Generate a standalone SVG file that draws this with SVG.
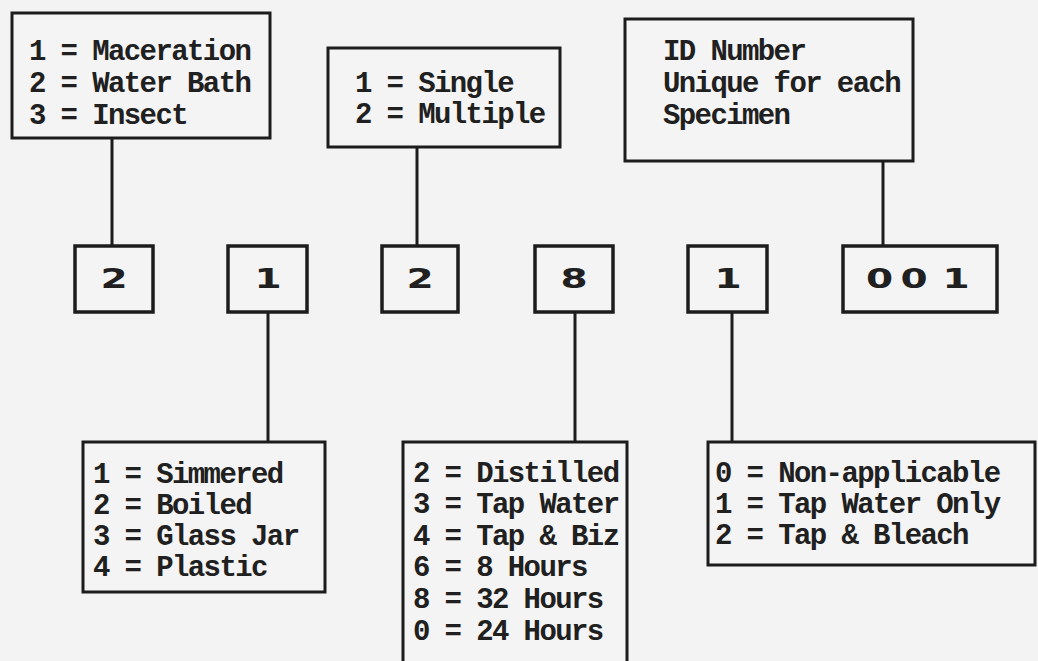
<svg xmlns="http://www.w3.org/2000/svg" width="1038" height="661" viewBox="0 0 1038 661">
<style>
.bg{fill:#f3f3f3}
.box{fill:#f4f4f4;stroke:#1c1c1c;stroke-width:3}
.dbox{fill:#f4f4f4;stroke:#1c1c1c;stroke-width:3.5}
.conn{stroke:#1c1c1c;stroke-width:3;fill:none}
.t{font-family:"Liberation Mono","Courier New",monospace;font-weight:bold;font-size:29px;letter-spacing:-1.6px;fill:#202020}
.d{font-family:"DejaVu Sans","Liberation Sans",sans-serif;font-weight:bold;font-size:26px;fill:#202020;text-anchor:middle}
</style>
<rect class="bg" x="0" y="0" width="1038" height="661"/>
<g id="connectors">
<line class="conn" x1="112" y1="137" x2="112" y2="246"/>
<line class="conn" x1="417" y1="147" x2="417" y2="246"/>
<line class="conn" x1="883" y1="161" x2="883" y2="246"/>
<line class="conn" x1="268" y1="312" x2="268" y2="442"/>
<line class="conn" x1="575" y1="312" x2="575" y2="442"/>
<line class="conn" x1="732" y1="312" x2="732" y2="442"/>
</g>
<g id="legend-type">
<rect class="box" x="12" y="13" width="258" height="125"/>
<text class="t" x="29" y="60">1 = Maceration</text>
<text class="t" x="29" y="92">2 = Water Bath</text>
<text class="t" x="29" y="124">3 = Insect</text>
</g>
<g id="legend-count">
<rect class="box" x="328" y="48" width="232" height="99"/>
<text class="t" x="355" y="92">1 = Single</text>
<text class="t" x="355" y="123">2 = Multiple</text>
</g>
<g id="legend-id">
<rect class="box" x="625" y="19" width="288" height="142"/>
<text class="t" x="663" y="60">ID Number</text>
<text class="t" x="663" y="92">Unique for each</text>
<text class="t" x="663" y="124">Specimen</text>
</g>
<g id="digit-1">
<rect class="dbox" x="75" y="246" width="78" height="66"/>
<text class="d" transform="translate(114,288) scale(1.5,1)">2</text>
</g>
<g id="digit-2">
<rect class="dbox" x="228" y="246" width="79" height="66"/>
<text class="d" transform="translate(268,288) scale(1.5,1)">1</text>
</g>
<g id="digit-3">
<rect class="dbox" x="382" y="246" width="76" height="66"/>
<text class="d" transform="translate(420,288) scale(1.5,1)">2</text>
</g>
<g id="digit-4">
<rect class="dbox" x="535" y="246" width="78" height="66"/>
<text class="d" transform="translate(574,288) scale(1.5,1)">8</text>
</g>
<g id="digit-5">
<rect class="dbox" x="688" y="246" width="79" height="66"/>
<text class="d" transform="translate(728,288) scale(1.5,1)">1</text>
</g>
<g id="digit-6">
<rect class="dbox" x="843" y="246" width="154" height="66"/>
<text class="d" transform="translate(917,288) scale(1.5,1)"><tspan x="-25">0</tspan><tspan x="-2">0</tspan><tspan x="26">1</tspan></text>
</g>
<g id="legend-prep">
<rect class="box" x="83" y="442" width="242" height="150"/>
<text class="t" x="93" y="483">1 = Simmered</text>
<text class="t" x="93" y="514">2 = Boiled</text>
<text class="t" x="93" y="545">3 = Glass Jar</text>
<text class="t" x="93" y="576">4 = Plastic</text>
</g>
<g id="legend-water">
<rect class="box" x="403" y="442" width="224" height="230"/>
<text class="t" x="413" y="482">2 = Distilled</text>
<text class="t" x="413" y="513">3 = Tap Water</text>
<text class="t" x="413" y="545">4 = Tap &amp; Biz</text>
<text class="t" x="413" y="576">6 = 8 Hours</text>
<text class="t" x="413" y="608">8 = 32 Hours</text>
<text class="t" x="413" y="640">0 = 24 Hours</text>
</g>
<g id="legend-bleach">
<rect class="box" x="708" y="442" width="327" height="123"/>
<text class="t" x="715" y="482">0 = Non-applicable</text>
<text class="t" x="715" y="513">1 = Tap Water Only</text>
<text class="t" x="715" y="544">2 = Tap &amp; Bleach</text>
</g>
</svg>
